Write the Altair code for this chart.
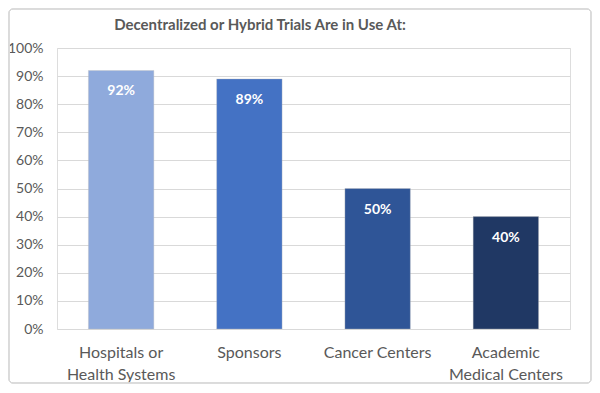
import altair as alt
import pandas as pd

categories = ["Hospitals or|Health Systems", "Sponsors", "Cancer Centers", "Academic|Medical Centers"]
values = [0.92, 0.89, 0.50, 0.40]
colors = ["#8FAADC", "#4472C4", "#2F5597", "#203864"]
labels = ["92%", "89%", "50%", "40%"]
y_ticks = [0.0, 0.1, 0.2, 0.3, 0.4, 0.5, 0.6, 0.7, 0.8, 0.9, 1.0]
title_text = ["Decentralized or Hybrid Trials Are in Use At:"]

df = pd.DataFrame({"cat": categories, "val": values, "color": colors, "label": labels})
tdf = pd.DataFrame({"t": title_text})

FONT = "Lato"
GRAY = "#595959"

x_enc = alt.X("cat:N", sort=categories, title=None,
              scale=alt.Scale(paddingInner=0.49, paddingOuter=0.245),
              axis=alt.Axis(labelExpr="split(datum.label, '|')", labelAngle=0,
                            labelFont=FONT, labelFontSize=16, labelColor=GRAY,
                            labelPadding=15, labelLineHeight=22, ticks=False,
                            domain=False, grid=False))
y_enc = alt.Y("val:Q", title=None,
              scale=alt.Scale(domain=[0, 1], nice=False),
              axis=alt.Axis(format=".0%", values=y_ticks, tickCount=11,
                            labelFont=FONT, labelFontSize=14, labelColor=GRAY,
                            labelOverlap=False,
                            labelPadding=14, ticks=False, domain=False,
                            grid=True, gridColor="#D9D9D9", gridWidth=1))

bars = alt.Chart(df).mark_bar(stroke="#BFBFBF", strokeWidth=0.6, strokeOpacity=0.6).encode(
    x=x_enc, y=y_enc,
    color=alt.Color("color:N", scale=None),
)

text = alt.Chart(df).mark_text(baseline="middle", dy=21, color="white",
                               font=FONT, fontWeight="bold", fontSize=14).encode(
    x=x_enc,
    y=y_enc,
    text="label:N",
)

title = alt.Chart(tdf).mark_text(font=FONT, fontSize=15, fontWeight="bold", color=GRAY,
                                 align="center", baseline="middle").encode(
    x=alt.value(203), y=alt.value(-23), text="t:N"
)

border = alt.Chart(df).mark_rect(fill=None, stroke="#D9D9D9", strokeWidth=1,
                                 cornerRadius=4).encode(
    x=alt.value(-48), x2=alt.value(534), y=alt.value(-39), y2=alt.value(335)
)

chart = alt.layer(bars, text, title, border).properties(
    width=513, height=281,
    autosize=alt.AutoSizeParams(type="none"),
    padding={"left": 49, "top": 40, "right": 22, "bottom": 56},
).configure_view(stroke=None).configure(background="white")

chart.save("out.html", embed_options={"renderer": "svg", "actions": False})
